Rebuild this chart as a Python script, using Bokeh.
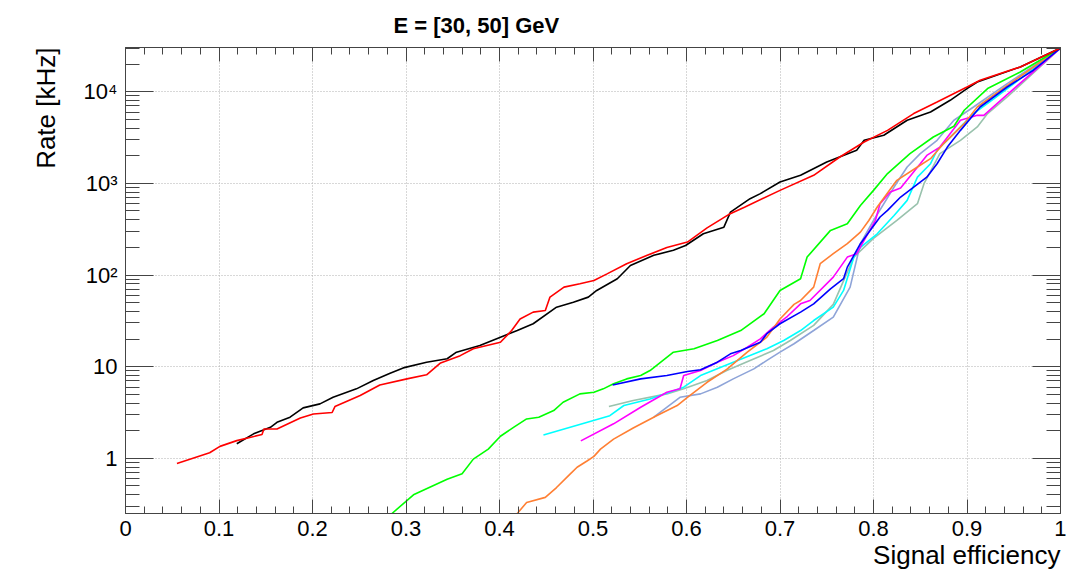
from bokeh.plotting import figure
from bokeh.models import (FixedTicker, LinearAxis, LogAxis, Range1d, Title)
from bokeh.embed import file_html
from bokeh.resources import INLINE

# ---- data ----
black_x = [0.119, 0.137, 0.155, 0.162, 0.176, 0.190, 0.208, 0.222, 0.247, 0.265, 0.283, 0.297,
           0.322, 0.344, 0.354, 0.379, 0.401, 0.419, 0.436, 0.461, 0.479, 0.495, 0.504, 0.526,
           0.540, 0.565, 0.586, 0.599, 0.618, 0.640, 0.647, 0.668, 0.679, 0.700, 0.722, 0.750,
           0.782, 0.790, 0.811, 0.836, 0.861, 0.882, 0.900, 0.911, 0.957, 1.0]
black_y = [1.44, 1.85, 2.18, 2.47, 2.81, 3.55, 3.93, 4.63, 5.73, 7.06, 8.49, 9.7,
           11.2, 12.2, 14.4, 17.0, 21.0, 24.8, 29.4, 44.6, 50.6, 57.4, 67.9, 91.2,
           127, 164, 186, 210, 282, 333, 486, 681, 773, 1035, 1225, 1710,
           2300, 2950, 3350, 4890, 6010, 8070, 10840, 12790, 18660, 30000]

red_x = [0.055, 0.090, 0.101, 0.119, 0.146, 0.148, 0.162, 0.187, 0.201, 0.221, 0.224, 0.251,
         0.272, 0.301, 0.322, 0.337, 0.358, 0.372, 0.401, 0.413, 0.422, 0.436, 0.449, 0.454,
         0.469, 0.486, 0.501, 0.515, 0.536, 0.558, 0.579, 0.601, 0.622, 0.645, 0.662, 0.700,
         0.736, 0.764, 0.790, 0.815, 0.843, 0.868, 0.900, 0.914, 0.957, 1.0]
red_y = [0.88, 1.15, 1.35, 1.56, 1.82, 2.09, 2.09, 2.75, 3.05, 3.16, 3.67, 4.84,
         6.3, 7.36, 8.15, 11.0, 13.2, 15.7, 18.5, 24.8, 33.1, 39.4, 41.0, 57.5,
         73.8, 80.4, 87.1, 103, 133, 164, 200, 229, 327, 457, 550, 839,
         1225, 1940, 2830, 3790, 5780, 7740, 11270, 13370, 18660, 30000]

green_x = [0.285, 0.308, 0.344, 0.360, 0.372, 0.388, 0.401, 0.415, 0.429, 0.442, 0.458, 0.468,
           0.486, 0.501, 0.511, 0.522, 0.536, 0.551, 0.561, 0.586, 0.608, 0.633, 0.658, 0.683,
           0.700, 0.722, 0.729, 0.754, 0.772, 0.786, 0.800, 0.815, 0.839, 0.864, 0.886, 0.897,
           0.922, 0.957, 1.0]
green_y = [0.25, 0.40, 0.59, 0.68, 0.98, 1.26, 1.74, 2.18, 2.69, 2.81, 3.32, 4.09,
           5.05, 5.26, 5.73, 6.5, 7.36, 8.0, 9.08, 14.4, 15.7, 19.3, 24.8, 37.8,
           67.9, 91.2, 157, 307, 363, 575, 839, 1280, 2110, 3210, 4200, 6280,
           10840, 16440, 30000]

orange_x = [0.419, 0.429, 0.449, 0.461, 0.476, 0.483, 0.494, 0.501, 0.508, 0.522, 0.543, 0.568,
            0.590, 0.601, 0.622, 0.643, 0.665, 0.686, 0.700, 0.715, 0.722, 0.736, 0.743, 0.757,
            0.772, 0.786, 0.795, 0.804, 0.825, 0.847, 0.861, 0.875, 0.897, 0.911, 0.936, 1.0]
orange_y = [0.25, 0.33, 0.375, 0.48, 0.68, 0.80, 0.94, 1.05, 1.26, 1.62, 2.14, 2.92,
            3.77, 4.63, 6.76, 9.33, 14.4, 21.0, 33.1, 47.9, 52.8, 73.8, 133, 171,
            220, 294, 394, 552, 1080, 1510, 1860, 2720, 4490, 6820, 10380, 30000]

blue_x = [0.521, 0.551, 0.579, 0.601, 0.615, 0.633, 0.647, 0.658, 0.679, 0.686, 0.700, 0.722,
          0.736, 0.754, 0.768, 0.772, 0.786, 0.807, 0.815, 0.829, 0.843, 0.857, 0.868, 0.879,
          0.893, 0.914, 0.943, 0.971, 1.0]
blue_y = [6.3, 7.36, 8.0, 8.85, 9.25, 11.2, 13.8, 15.0, 18.5, 22.9, 29.4, 39.4,
          48.5, 70.8, 91.2, 122, 220, 430, 508, 710, 912, 1170, 1640, 2490,
          3790, 6820, 11270, 17180, 30000]

magenta_x = [0.487, 0.522, 0.551, 0.579, 0.593, 0.597, 0.615, 0.633, 0.650, 0.665, 0.679, 0.693,
             0.708, 0.722, 0.732, 0.757, 0.772, 0.782, 0.802, 0.807, 0.818, 0.829, 0.850, 0.857,
             0.871, 0.893, 0.911, 0.918, 0.936, 1.0]
magenta_y = [1.55, 2.38, 3.61, 5.26, 5.73, 8.0, 9.08, 11.2, 13.2, 16.3, 20.1, 27.0,
             35.5, 48.5, 52.8, 94.8, 157, 171, 394, 601, 805, 891, 1640, 2020,
             2490, 4890, 5530, 5530, 8070, 30000]

cyan_x = [0.447, 0.518, 0.533, 0.561, 0.597, 0.615, 0.650, 0.686, 0.704, 0.722, 0.736, 0.757,
          0.768, 0.779, 0.786, 0.804, 0.822, 0.836, 0.847, 0.861, 0.868, 0.886, 0.907, 0.929, 1.0]
cyan_y = [1.80, 2.92, 3.77, 4.45, 5.97, 8.0, 11.2, 15.7, 19.3, 24.8, 31.9, 44.6,
          67.9, 157, 200, 282, 447, 653, 1170, 1640, 2300, 3490, 5780, 8430, 30000]

seagreen_x = [0.517, 0.543, 0.579, 0.597, 0.622, 0.643, 0.668, 0.693, 0.711, 0.736, 0.757, 0.779,
              0.800, 0.825, 0.847, 0.854, 0.871, 0.893, 0.911, 0.922, 0.943, 1.0]
seagreen_y = [3.67, 4.27, 5.05, 5.73, 7.06, 9.08, 11.7, 15.0, 19.3, 28.2, 47.9, 157,
              251, 394, 601, 993, 2110, 2950, 4130, 5780, 8770, 30000]

slate_x = [0.565, 0.593, 0.615, 0.633, 0.650, 0.672, 0.686, 0.700, 0.715, 0.736, 0.757, 0.775,
           0.786, 0.800, 0.822, 0.836, 0.850, 0.868, 0.886, 0.907, 0.943, 1.0]
slate_y = [2.81, 4.63, 5.05, 5.97, 7.36, 9.46, 11.7, 14.4, 17.8, 24.8, 34.7, 73.8,
           220, 394, 912, 1510, 2110, 2950, 4890, 6820, 12270, 30000]

x_major = [0.0, 0.1, 0.2, 0.3, 0.4, 0.5, 0.6, 0.7, 0.8, 0.9, 1.0]
y_major = [1, 10, 100, 1000, 10000]
y_labels = {1: "1", 10: "10", 100: "10²", 1000: "10³", 10000: "10⁴"}

title_text = "E = [30, 50] GeV"
x_title = "Signal efficiency"
y_title = "Rate [kHz]"

# ---- figure ----
YMIN, YMAX = 0.25, 30400
p = figure(width=1066, height=573, y_axis_type="log",
           x_range=Range1d(0, 1), y_range=Range1d(YMIN, YMAX),
           output_backend="svg", toolbar_location=None,
           title=title_text,
           min_border_left=125, min_border_right=6, min_border_top=47, min_border_bottom=60)
p.background_fill_color = "white"
p.border_fill_color = "white"
p.outline_line_color = "#444444"
p.outline_line_width = 1

FONT = "Liberation Sans"
p.title.text_font = FONT
p.title.text_font_style = "bold"
p.title.text_font_size = "22px"
p.title.text_color = "black"
p.title.align = "left"
p.title.offset = 268
p.title.standoff = 20

x_minor = [round(i * 0.02, 2) for i in range(51) if i % 5 != 0]
y_minor = []
for dec in [0.1, 1, 10, 100, 1000, 10000]:
    for m in range(2, 10):
        v = m * dec
        if YMIN <= v <= YMAX:
            y_minor.append(v)

xt = FixedTicker(ticks=x_major, minor_ticks=x_minor)
yt = FixedTicker(ticks=y_major, minor_ticks=y_minor)

AX_COL = "#444444"

def style_axis(ax, major_in, minor_in):
    ax.major_tick_in = major_in
    ax.major_tick_out = 0
    ax.minor_tick_in = minor_in
    ax.minor_tick_out = 0
    ax.axis_line_color = AX_COL
    ax.major_tick_line_color = AX_COL
    ax.minor_tick_line_color = AX_COL
    ax.major_label_text_font = FONT
    ax.major_label_text_color = "black"
    ax.major_label_text_font_size = "22px"

xa = p.xaxis[0]
xa.ticker = xt
style_axis(xa, 14, 7)
xa.major_label_standoff = 7
xa.major_label_overrides = {0.0: "0", 1.0: "1"}

ya = p.yaxis[0]
ya.ticker = yt
style_axis(ya, 28, 14)
ya.major_label_standoff = 8
ya.major_label_overrides = y_labels

# axis titles placed at the far end of each axis, as ROOT does
p.add_layout(Title(text=x_title, align="right", text_font=FONT, text_font_style="normal",
                   text_font_size="26px", text_color="black", standoff=-2), "below")
p.add_layout(Title(text=y_title, align="right", text_font=FONT, text_font_style="normal",
                   text_font_size="26px", text_color="black", standoff=40), "left")

# mirrored tick axes (no labels) on the top and right, as in ROOT
top_ax = LinearAxis(ticker=xt)
style_axis(top_ax, 14, 7)
top_ax.major_label_overrides = {t: "" for t in x_major}
top_ax.major_label_text_color = None
top_ax.major_label_text_font_size = "1px"
top_ax.major_label_standoff = 0
p.add_layout(top_ax, "above")

right_ax = LogAxis(ticker=yt)
style_axis(right_ax, 28, 14)
right_ax.major_label_overrides = {t: "" for t in y_major}
right_ax.major_label_text_color = None
right_ax.major_label_text_font_size = "1px"
right_ax.major_label_standoff = 0
p.add_layout(right_ax, "right")

p.xgrid.ticker = xt
p.ygrid.ticker = yt
for g in (p.xgrid[0], p.ygrid[0]):
    g.grid_line_color = "#b0b0b0"
    g.grid_line_dash = "1 2"
    g.grid_line_width = 1

LW = 1.6
p.line(seagreen_x, seagreen_y, line_color="#99c2ad", line_width=LW)
p.line(slate_x, slate_y, line_color="#8ea4d8", line_width=LW)
p.line(cyan_x, cyan_y, line_color="#00ffff", line_width=LW)
p.line(magenta_x, magenta_y, line_color="#ff00ff", line_width=LW)
p.line(orange_x, orange_y, line_color="#ff7f33", line_width=LW)
p.line(green_x, green_y, line_color="#00ff00", line_width=LW)
p.line(blue_x, blue_y, line_color="#0000ff", line_width=LW)
p.line(black_x, black_y, line_color="black", line_width=LW)
p.line(red_x, red_y, line_color="#ff0000", line_width=LW)

open("out.html", "w").write(file_html(p, INLINE))
